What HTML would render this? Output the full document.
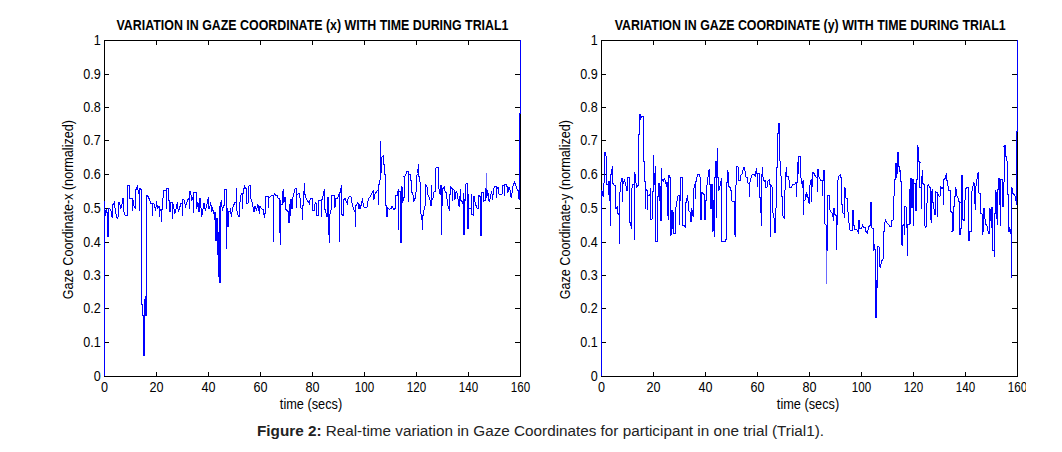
<!DOCTYPE html>
<html><head><meta charset="utf-8"><title>Figure 2</title>
<style>
html,body{margin:0;padding:0;background:#fff;}
body{width:1062px;height:452px;overflow:hidden;font-family:'Liberation Sans', Arial, Helvetica, sans-serif;}
svg{display:block;position:absolute;left:0;top:0;}
svg text{font-family:'Liberation Sans', Arial, Helvetica, sans-serif;}
.cap{position:absolute;left:257px;top:421px;width:600px;font-size:15.28px;line-height:20px;color:#222;white-space:nowrap;}
</style></head><body>
<svg width="1062" height="452" viewBox="0 0 1062 452">
<rect width="1062" height="452" fill="#fff"/>
<g shape-rendering="crispEdges" stroke="#000" stroke-width="1" fill="none">
<rect x="104.5" y="40.5" width="416" height="336"/>
<line x1="156.5" y1="376" x2="156.5" y2="372"/><line x1="156.5" y1="41" x2="156.5" y2="45"/>
<line x1="208.5" y1="376" x2="208.5" y2="372"/><line x1="208.5" y1="41" x2="208.5" y2="45"/>
<line x1="260.5" y1="376" x2="260.5" y2="372"/><line x1="260.5" y1="41" x2="260.5" y2="45"/>
<line x1="312.5" y1="376" x2="312.5" y2="372"/><line x1="312.5" y1="41" x2="312.5" y2="45"/>
<line x1="364.5" y1="376" x2="364.5" y2="372"/><line x1="364.5" y1="41" x2="364.5" y2="45"/>
<line x1="416.5" y1="376" x2="416.5" y2="372"/><line x1="416.5" y1="41" x2="416.5" y2="45"/>
<line x1="468.5" y1="376" x2="468.5" y2="372"/><line x1="468.5" y1="41" x2="468.5" y2="45"/>
<line x1="105" y1="342.5" x2="109" y2="342.5"/><line x1="520" y1="342.5" x2="515" y2="342.5"/>
<line x1="105" y1="308.5" x2="109" y2="308.5"/><line x1="520" y1="308.5" x2="515" y2="308.5"/>
<line x1="105" y1="275.5" x2="109" y2="275.5"/><line x1="520" y1="275.5" x2="515" y2="275.5"/>
<line x1="105" y1="242.5" x2="109" y2="242.5"/><line x1="520" y1="242.5" x2="515" y2="242.5"/>
<line x1="105" y1="208.5" x2="109" y2="208.5"/><line x1="520" y1="208.5" x2="515" y2="208.5"/>
<line x1="105" y1="174.5" x2="109" y2="174.5"/><line x1="520" y1="174.5" x2="515" y2="174.5"/>
<line x1="105" y1="140.5" x2="109" y2="140.5"/><line x1="520" y1="140.5" x2="515" y2="140.5"/>
<line x1="105" y1="107.5" x2="109" y2="107.5"/><line x1="520" y1="107.5" x2="515" y2="107.5"/>
<line x1="105" y1="74.5" x2="109" y2="74.5"/><line x1="520" y1="74.5" x2="515" y2="74.5"/>
</g>
<polyline points="104.5,376.0 104.5,201.4 104.5,215.5 105.5,215.5 106.1,209.4 107.1,213.0 107.5,212.0 107.5,236.0 108.5,236.0 108.5,209.0 109.5,208.2 111.0,210.6 112.2,217.9 112.5,217.9 112.5,204.5 113.2,204.5 114.4,202.6 115.3,210.6 117.1,218.6 118.4,216.7 118.5,216.7 118.5,202.6 119.6,202.6 120.6,208.2 121.8,206.3 122.6,198.4 123.5,198.4 123.5,211.8 123.9,211.8 125.1,215.5 126.7,215.5 127.5,215.5 127.5,204.5 127.5,204.5 127.5,204.5 127.5,185.5 128.4,185.5 129.4,185.5 129.5,185.5 129.5,198.4 130.6,198.4 132.5,198.4 132.5,210.6 132.5,198.4 132.8,198.4 133.7,205.7 135.5,208.2 135.5,208.2 135.5,189.2 136.5,189.2 137.3,185.5 138.6,193.5 139.5,193.5 139.5,210.6 139.5,188.6 139.8,188.6 141.0,189.2 141.5,189.2 141.5,304.0 142.5,304.0 142.5,315.0 143.5,315.0 143.5,355.5 144.5,355.5 144.5,302.0 145.5,296.0 145.5,315.0 146.0,315.0 146.5,315.0 146.5,195.9 146.3,195.9 147.7,195.9 149.0,198.4 150.8,203.3 152.5,203.3 152.5,216.1 152.5,203.3 153.9,203.3 155.7,210.6 156.5,200.8 157.5,208.2 158.8,206.3 159.5,206.3 159.5,216.7 159.4,216.7 160.2,209.4 161.5,209.4 161.5,222.2 161.5,209.4 161.8,209.4 162.5,209.4 162.5,198.4 163.0,198.4 163.6,190.4 166.1,190.4 166.5,190.4 166.5,209.4 166.5,188.0 167.9,188.0 168.5,188.0 168.5,188.0 168.5,200.8 169.2,200.8 169.5,200.8 169.5,211.8 170.4,211.8 171.0,202.0 172.5,202.0 172.5,219.2 172.5,204.5 173.4,204.5 174.7,213.7 175.9,209.4 177.4,202.0 178.3,211.8 179.6,208.2 180.8,203.3 182.5,203.3 182.5,215.5 182.5,199.0 183.8,199.0 185.7,206.3 187.5,200.8 188.4,198.4 189.5,198.4 189.5,208.8 189.5,191.6 190.6,191.6 191.8,200.8 192.8,197.1 193.5,197.1 193.5,213.0 193.5,192.2 194.9,192.2 196.1,192.2 196.5,192.2 196.5,208.2 196.9,208.2 197.9,202.0 198.9,211.2 199.5,211.2 199.5,198.4 200.1,198.4 201.0,208.2 201.6,216.7 202.8,210.6 204.0,202.6 205.3,210.6 206.5,206.9 208.3,197.7 208.5,197.7 208.5,208.2 209.5,208.2 210.8,202.0 211.6,211.8 212.6,208.8 213.8,211.8 214.8,220.4 215.0,212.0 215.5,212.0 215.5,240.0 216.5,240.0 216.5,218.0 217.5,218.0 217.5,255.0 217.5,232.0 218.5,232.0 218.5,270.0 218.5,240.0 218.5,276.0 219.5,276.0 219.5,205.7 219.5,282.5 220.0,282.5 220.6,282.5 220.5,282.5 220.5,202.0 221.2,202.0 221.5,201.4 222.4,210.6 223.6,205.7 224.5,205.7 224.5,189.2 226.5,189.2 226.5,248.7 226.5,208.2 227.5,208.2 227.5,226.5 228.5,226.5 228.5,211.8 230.0,211.8 230.0,208.2 231.5,216.7 232.4,208.2 234.9,202.6 236.5,202.6 236.5,188.0 236.5,209.4 236.7,209.4 238.3,216.7 239.5,216.7 239.5,203.3 239.8,203.3 241.3,193.5 242.5,193.5 242.5,209.4 242.5,193.5 243.2,193.5 244.4,186.1 245.9,188.6 246.5,188.6 246.5,203.9 246.5,203.9 248.4,202.6 248.5,202.6 248.5,186.1 248.6,186.1 250.2,185.1 250.5,185.1 250.5,198.4 250.8,198.4 252.6,203.9 253.9,212.4 255.1,205.7 256.3,210.6 257.9,203.9 259.4,213.7 260.0,205.7 261.6,208.8 263.0,209.4 264.5,217.9 265.5,209.4 265.5,209.4 265.5,196.5 266.1,196.5 268.2,196.5 268.5,196.5 268.5,208.2 268.5,197.1 269.8,197.1 272.2,195.3 273.5,195.3 273.5,241.6 273.5,195.9 273.8,195.9 274.7,193.5 275.9,195.9 277.1,195.3 278.3,198.4 279.5,198.4 279.5,232.0 280.5,232.0 280.5,200.0 280.5,245.3 280.5,204.5 281.4,204.5 282.5,204.5 282.5,193.5 282.6,193.5 283.4,189.2 283.5,189.2 283.5,202.6 283.9,202.6 285.1,197.1 285.5,197.1 285.5,209.4 286.3,209.4 287.5,211.2 288.5,211.2 288.5,222.2 289.5,222.2 289.5,204.5 290.5,204.5 290.5,216.1 290.5,199.6 291.2,199.6 291.8,208.2 292.5,208.2 292.5,197.1 293.0,197.1 293.9,193.5 295.2,188.6 296.5,188.6 296.5,208.2 296.5,194.7 297.1,194.7 299.2,193.5 300.4,200.8 301.0,208.2 302.5,208.2 302.5,220.4 302.5,205.7 303.2,205.7 303.5,205.7 303.5,191.0 304.1,191.0 304.7,183.7 304.5,183.7 304.5,194.7 305.3,194.7 306.5,199.6 308.3,202.0 309.6,204.5 310.2,198.4 312.0,198.4 312.5,198.4 312.5,210.6 313.2,210.6 314.5,210.6 315.1,202.6 316.3,203.3 316.5,203.3 316.5,215.5 316.9,215.5 318.4,215.5 318.5,215.5 318.5,200.8 319.1,200.8 320.6,200.8 321.5,200.8 321.5,217.3 321.5,199.6 322.4,199.6 323.6,192.2 324.5,189.2 324.5,189.2 324.5,209.4 325.2,209.4 326.7,216.1 327.5,216.1 327.5,197.7 328.5,197.7 328.5,235.0 328.5,215.0 329.5,215.0 329.5,243.4 329.5,214.3 329.8,214.3 331.3,209.4 331.5,209.4 331.5,195.9 332.2,195.9 334.0,195.9 334.5,195.9 334.5,207.5 335.0,207.5 335.5,198.4 337.7,198.4 338.7,194.7 339.5,194.7 339.5,241.6 339.5,192.2 340.2,192.2 341.4,185.5 341.5,185.5 341.5,214.3 342.0,214.3 343.2,215.5 343.5,215.5 343.5,199.6 343.8,199.6 345.1,198.4 346.3,202.0 347.5,203.9 348.1,198.4 350.0,195.9 351.2,197.1 351.8,202.6 353.6,209.4 354.8,211.8 355.5,211.8 355.5,226.5 355.5,205.7 356.1,205.7 357.9,202.6 359.1,209.4 360.0,204.5 360.0,208.8 361.2,205.7 362.4,198.4 363.4,206.3 364.9,207.5 366.1,208.2 367.3,206.9 368.3,198.4 369.8,197.1 371.6,194.1 373.2,190.4 373.7,200.2 374.7,194.7 376.5,191.6 378.1,189.8 378.5,189.8 378.5,205.1 378.5,184.9 379.6,184.9 380.2,178.0 380.5,178.0 380.5,141.0 380.5,172.0 381.5,172.0 381.5,157.0 382.3,157.0 383.5,156.0 383.9,164.0 384.7,164.0 384.5,164.0 384.5,174.0 385.1,174.0 385.7,174.0 385.5,174.0 385.5,189.8 385.5,189.8 385.5,189.8 385.5,205.7 386.3,205.7 386.5,205.7 386.5,216.7 387.2,216.7 387.9,208.2 389.4,209.4 391.2,208.2 392.1,206.3 393.7,209.4 394.9,208.8 395.5,208.8 395.5,195.9 395.7,195.9 397.3,195.3 398.2,189.8 398.5,189.8 398.5,229.6 398.5,191.0 399.4,191.0 400.5,191.0 400.5,242.6 401.5,242.6 401.5,187.0 401.9,187.3 402.5,187.3 402.5,202.0 402.8,202.0 404.1,197.1 404.5,197.1 404.5,176.5 404.3,176.5 405.9,175.3 406.3,171.0 407.7,171.0 408.5,171.0 408.5,202.0 408.5,176.5 408.7,176.5 409.2,174.0 410.4,174.0 410.8,180.0 411.6,180.0 411.5,180.0 411.5,192.2 412.0,192.2 413.2,195.9 413.9,200.8 415.1,198.4 416.1,191.6 416.5,191.6 416.5,176.3 417.5,173.5 418.5,164.0 418.5,176.5 418.6,176.5 419.4,177.0 420.0,182.0 420.6,182.6 420.6,211.2 421.8,219.2 422.5,219.2 422.5,230.3 422.5,215.5 423.6,215.5 424.3,206.3 425.5,205.7 425.5,205.7 425.5,184.9 426.1,184.9 427.3,187.3 427.9,194.7 429.8,198.4 430.7,205.1 431.5,205.1 431.5,184.9 431.5,199.6 432.8,199.6 434.1,191.6 435.3,191.6 435.3,169.2 436.5,167.1 438.6,167.1 438.5,167.1 438.5,188.6 438.9,188.6 440.2,194.7 440.8,185.5 441.5,185.5 441.5,234.6 441.5,205.7 442.3,205.7 442.5,205.7 442.5,188.6 443.2,188.6 444.5,186.7 445.1,192.2 446.3,192.2 447.1,200.2 448.4,208.2 449.4,210.0 449.5,210.0 449.5,194.7 450.0,194.7 450.8,186.1 451.8,188.6 452.5,188.6 452.5,201.4 452.5,189.8 454.0,189.8 454.9,199.6 456.1,191.0 457.3,193.5 457.9,198.4 459.1,206.9 459.8,198.4 460.6,189.2 460.5,189.2 460.5,200.8 461.3,200.8 462.8,203.3 463.8,194.1 463.5,194.0 463.5,234.6 464.5,234.6 464.5,200.0 465.0,200.8 465.5,200.8 465.5,184.3 465.5,184.3 466.7,183.7 467.5,183.7 467.5,228.3 467.6,228.3 468.3,228.3 468.5,228.3 468.5,194.1 468.5,208.2 470.2,208.2 471.3,209.0 471.5,209.0 471.5,193.5 471.5,214.5 472.4,214.5 473.5,215.6 473.5,215.6 473.5,196.8 474.2,196.8 475.0,202.3 476.1,205.7 477.2,208.4 478.3,208.4 478.5,208.4 478.5,195.7 478.6,195.7 479.7,195.7 480.5,198.0 480.5,235.7 481.5,235.7 481.5,193.0 481.6,192.4 483.3,192.4 483.8,201.2 485.0,200.1 485.5,200.1 485.5,188.5 485.5,188.5 486.4,188.5 486.8,197.9 487.7,190.1 488.8,200.1 489.7,201.2 490.5,196.8 491.6,190.7 492.7,200.1 493.3,190.1 494.6,186.3 495.7,186.3 496.5,186.3 496.5,197.3 496.4,197.3 497.1,187.9 498.6,187.9 499.0,194.0 501.0,194.6 502.1,194.0 502.7,185.7 503.8,185.7 504.5,185.7 504.5,196.2 504.5,184.6 506.0,184.6 507.1,186.8 507.7,192.9 508.8,187.9 509.9,187.9 510.4,195.1 511.5,197.9 512.6,188.5 513.4,184.6 514.5,182.4 515.6,184.6 516.5,188.5 518.2,190.7 518.7,197.9 519.5,200.0 519.5,113.0 520.5,113.0 520.5,40.0" fill="none" stroke="#0000ff" stroke-width="1" stroke-linejoin="miter" shape-rendering="crispEdges"/>
<line x1="486.5" y1="173" x2="486.5" y2="188.5" stroke="#6a6aff" stroke-width="1" shape-rendering="crispEdges"/>
<g font-size="14" fill="#000">
<text transform="translate(104.5,391.8) scale(0.9,1)" text-anchor="middle">0</text>
<text transform="translate(156.5,391.8) scale(0.9,1)" text-anchor="middle">20</text>
<text transform="translate(208.5,391.8) scale(0.9,1)" text-anchor="middle">40</text>
<text transform="translate(260.5,391.8) scale(0.9,1)" text-anchor="middle">60</text>
<text transform="translate(312.5,391.8) scale(0.9,1)" text-anchor="middle">80</text>
<text transform="translate(364.5,391.8) scale(0.83,1)" text-anchor="middle">100</text>
<text transform="translate(416.5,391.8) scale(0.83,1)" text-anchor="middle">120</text>
<text transform="translate(468.5,391.8) scale(0.83,1)" text-anchor="middle">140</text>
<text transform="translate(520.5,391.8) scale(0.83,1)" text-anchor="middle">160</text>
<text transform="translate(100.8,381) scale(0.9,1)" text-anchor="end">0</text>
<text transform="translate(100.8,347) scale(0.9,1)" text-anchor="end">0.1</text>
<text transform="translate(100.8,313) scale(0.9,1)" text-anchor="end">0.2</text>
<text transform="translate(100.8,280) scale(0.9,1)" text-anchor="end">0.3</text>
<text transform="translate(100.8,247) scale(0.9,1)" text-anchor="end">0.4</text>
<text transform="translate(100.8,213) scale(0.9,1)" text-anchor="end">0.5</text>
<text transform="translate(100.8,179) scale(0.9,1)" text-anchor="end">0.6</text>
<text transform="translate(100.8,145) scale(0.9,1)" text-anchor="end">0.7</text>
<text transform="translate(100.8,112) scale(0.9,1)" text-anchor="end">0.8</text>
<text transform="translate(100.8,79) scale(0.9,1)" text-anchor="end">0.9</text>
<text transform="translate(100.8,45) scale(0.9,1)" text-anchor="end">1</text>
</g>
<text x="311" y="408.7" font-size="13.8" text-anchor="middle" textLength="62.3" lengthAdjust="spacingAndGlyphs">time (secs)</text>
<text transform="translate(73,209.7) rotate(-90)" font-size="14" text-anchor="middle" textLength="179.3" lengthAdjust="spacingAndGlyphs">Gaze Coordinate-x (normalized)</text>
<text x="312.5" y="30.1" font-size="14" font-weight="bold" text-anchor="middle" textLength="392" lengthAdjust="spacingAndGlyphs">VARIATION IN GAZE COORDINATE (x) WITH TIME DURING TRIAL1</text>
<g shape-rendering="crispEdges" stroke="#000" stroke-width="1" fill="none">
<rect x="601.5" y="40.5" width="416" height="336"/>
<line x1="653.5" y1="376" x2="653.5" y2="372"/><line x1="653.5" y1="41" x2="653.5" y2="45"/>
<line x1="705.5" y1="376" x2="705.5" y2="372"/><line x1="705.5" y1="41" x2="705.5" y2="45"/>
<line x1="757.5" y1="376" x2="757.5" y2="372"/><line x1="757.5" y1="41" x2="757.5" y2="45"/>
<line x1="809.5" y1="376" x2="809.5" y2="372"/><line x1="809.5" y1="41" x2="809.5" y2="45"/>
<line x1="861.5" y1="376" x2="861.5" y2="372"/><line x1="861.5" y1="41" x2="861.5" y2="45"/>
<line x1="913.5" y1="376" x2="913.5" y2="372"/><line x1="913.5" y1="41" x2="913.5" y2="45"/>
<line x1="965.5" y1="376" x2="965.5" y2="372"/><line x1="965.5" y1="41" x2="965.5" y2="45"/>
<line x1="602" y1="342.5" x2="606" y2="342.5"/><line x1="1017" y1="342.5" x2="1012" y2="342.5"/>
<line x1="602" y1="308.5" x2="606" y2="308.5"/><line x1="1017" y1="308.5" x2="1012" y2="308.5"/>
<line x1="602" y1="275.5" x2="606" y2="275.5"/><line x1="1017" y1="275.5" x2="1012" y2="275.5"/>
<line x1="602" y1="242.5" x2="606" y2="242.5"/><line x1="1017" y1="242.5" x2="1012" y2="242.5"/>
<line x1="602" y1="208.5" x2="606" y2="208.5"/><line x1="1017" y1="208.5" x2="1012" y2="208.5"/>
<line x1="602" y1="174.5" x2="606" y2="174.5"/><line x1="1017" y1="174.5" x2="1012" y2="174.5"/>
<line x1="602" y1="140.5" x2="606" y2="140.5"/><line x1="1017" y1="140.5" x2="1012" y2="140.5"/>
<line x1="602" y1="107.5" x2="606" y2="107.5"/><line x1="1017" y1="107.5" x2="1012" y2="107.5"/>
<line x1="602" y1="74.5" x2="606" y2="74.5"/><line x1="1017" y1="74.5" x2="1012" y2="74.5"/>
</g>
<polyline points="601.5,376.0 601.5,190.0 601.7,190.0 603.1,196.6 603.7,186.8 604.6,177.0 604.5,177.0 604.5,152.0 605.3,152.0 606.5,158.7 606.5,158.7 606.5,184.4 607.0,184.4 608.5,184.4 608.5,195.4 608.5,181.3 608.6,181.3 609.5,181.3 609.5,181.3 609.5,200.3 609.9,200.3 610.5,200.3 610.5,225.7 610.5,174.6 611.4,174.6 612.3,166.0 612.5,166.0 612.5,183.2 612.9,183.2 614.1,185.0 615.4,185.0 615.5,185.0 615.5,197.8 615.6,197.8 615.5,197.8 615.5,208.5 616.3,208.5 617.2,206.1 617.8,213.5 619.0,214.7 619.5,214.7 619.5,243.5 619.5,195.0 619.8,195.0 620.3,186.8 621.5,178.9 622.5,178.9 622.5,202.4 622.5,183.8 622.9,183.8 624.5,180.1 625.8,185.6 627.0,190.5 627.5,190.5 627.5,177.6 627.6,177.6 628.6,177.6 629.5,177.6 629.5,191.7 629.4,191.7 629.5,191.7 629.5,222.6 630.3,222.6 631.5,228.8 631.5,228.8 631.5,189.3 631.9,189.3 632.5,184.4 633.7,184.4 634.5,184.4 634.5,239.8 634.5,172.1 634.7,172.1 635.6,177.6 636.4,187.4 638.0,185.6 638.5,185.6 638.5,134.0 638.4,134.0 639.2,134.0 639.5,134.0 639.5,114.1 639.5,114.1 640.1,120.2 640.8,115.3 641.7,117.2 642.3,116.3 643.5,116.3 643.5,116.3 643.5,161.9 643.8,161.9 644.1,161.1 644.5,161.1 644.5,181.3 645.0,181.3 645.5,181.3 645.5,208.6 645.5,189.3 646.2,189.3 647.4,191.1 647.5,191.1 647.5,209.8 647.5,195.4 649.0,195.4 649.9,194.2 650.5,194.2 650.5,212.2 650.5,188.0 650.5,219.6 651.5,219.6 652.7,218.4 652.7,191.7 653.5,191.7 653.5,155.1 653.5,173.4 653.9,173.4 654.5,173.4 654.5,184.4 655.5,184.4 655.5,166.0 655.5,241.6 656.7,241.6 657.2,241.6 657.5,241.6 657.5,196.6 657.6,196.6 658.5,196.6 658.5,183.2 659.5,183.2 659.5,200.9 660.5,200.9 660.5,185.6 660.5,220.2 660.6,220.2 661.4,220.2 661.5,220.2 661.5,167.9 661.5,178.9 662.1,178.9 663.1,181.3 664.3,178.9 665.5,181.3 666.5,187.4 667.0,182.5 667.5,182.5 667.5,215.9 668.5,215.9 668.5,195.0 668.5,219.6 668.5,175.2 669.5,175.2 670.2,178.3 670.5,178.3 670.5,235.5 670.5,212.0 671.5,212.0 671.5,235.0 671.5,210.0 672.5,210.0 672.5,228.0 673.5,228.0 673.5,212.0 673.5,233.7 673.5,233.7 675.6,233.7 675.6,208.6 676.6,204.0 677.8,196.0 678.8,195.4 679.5,195.4 679.5,224.5 679.5,200.0 679.7,200.0 680.5,200.0 680.5,177.3 680.5,177.3 682.7,177.3 682.7,225.1 684.5,225.7 685.4,227.5 685.5,227.5 685.5,205.0 685.6,205.0 686.4,200.3 687.6,195.4 688.2,203.7 688.8,211.0 690.6,212.9 690.8,221.4 691.5,221.4 691.5,208.2 691.2,208.2 691.9,208.6 692.5,214.7 693.7,216.5 693.5,216.5 693.5,189.3 693.9,189.3 694.3,184.4 695.5,184.4 695.5,198.5 695.5,181.3 696.1,181.3 697.6,174.6 699.2,174.3 700.2,177.6 700.5,177.6 700.5,212.2 700.4,212.2 701.0,219.6 701.5,219.6 701.5,204.0 701.7,204.0 701.5,204.0 701.5,192.9 702.3,192.9 703.5,194.2 704.5,194.2 704.5,219.6 704.7,219.6 705.7,219.6 705.5,219.6 705.5,200.0 706.2,200.0 706.5,200.0 706.5,188.0 706.5,188.0 707.8,179.5 708.6,170.9 709.6,169.1 709.5,169.1 709.5,184.4 710.2,184.4 710.5,184.4 710.5,208.6 711.5,208.6 711.5,184.4 712.5,184.4 712.5,232.4 712.5,200.0 713.5,200.0 713.5,230.0 713.9,230.0 714.5,236.7 714.5,236.7 714.5,190.0 714.7,190.0 714.5,190.0 714.5,177.0 715.0,177.0 715.5,177.0 715.5,161.1 716.5,161.1 716.5,217.7 716.5,177.0 716.7,177.0 717.5,177.0 717.5,148.1 717.5,177.6 718.2,177.6 718.5,177.6 718.5,190.5 718.8,190.5 720.0,186.2 720.9,181.3 721.8,178.3 721.5,178.3 721.5,241.6 722.1,241.6 724.9,241.6 725.9,239.8 726.5,239.8 726.5,182.0 726.1,182.0 727.0,182.5 727.5,182.5 727.5,170.3 727.6,170.3 728.5,173.4 728.5,173.4 728.5,186.2 729.2,186.2 730.4,188.0 731.3,191.7 731.9,200.9 733.7,201.5 734.6,201.5 734.6,232.4 735.3,236.7 735.5,236.7 735.5,188.7 735.6,188.7 736.5,181.3 736.5,181.3 736.5,166.6 737.4,166.6 738.6,167.2 738.5,167.2 738.5,180.1 739.0,180.1 740.2,180.1 740.7,175.2 742.3,173.4 743.5,167.9 744.7,167.2 745.6,177.0 747.2,177.6 748.1,183.2 749.5,183.2 749.5,196.6 749.5,183.8 749.6,183.8 750.9,178.3 752.1,174.6 753.9,174.3 755.4,175.8 756.4,167.9 757.0,174.0 757.5,174.0 757.5,187.4 757.5,173.4 758.6,173.4 759.4,173.4 759.5,173.4 759.5,197.8 760.0,197.8 760.5,197.8 760.5,212.2 760.3,212.2 761.5,212.2 761.5,226.3 761.5,175.8 761.9,175.8 762.5,166.6 762.7,176.4 764.3,181.3 765.2,180.7 765.9,187.4 767.4,186.8 768.0,181.3 769.6,179.5 769.8,184.4 770.5,184.4 770.5,236.5 770.5,185.0 770.8,185.0 771.7,185.6 772.3,188.0 772.5,188.0 772.5,212.2 772.9,212.2 774.1,218.4 774.5,218.4 774.5,232.4 774.5,232.4 775.3,232.4 775.5,232.4 775.5,208.6 775.7,208.6 776.6,207.3 776.6,167.2 777.2,167.2 777.2,133.9 778.4,133.9 778.4,123.1 779.6,123.1 779.5,123.1 779.5,157.4 779.9,157.4 780.2,166.6 780.6,173.4 781.5,178.3 781.5,178.3 781.5,196.0 781.8,196.0 782.7,196.0 782.7,215.3 784.3,218.4 784.5,218.4 784.5,190.5 784.5,190.5 785.5,189.3 785.5,189.3 785.5,173.4 785.8,173.4 786.6,167.2 787.0,176.4 788.2,176.4 789.2,181.3 790.0,187.4 791.3,187.4 793.1,184.4 794.9,184.4 795.5,182.5 796.5,182.5 796.5,197.2 796.5,182.5 797.0,182.5 797.5,182.5 797.5,162.3 797.4,162.3 798.0,166.6 798.6,173.4 798.5,173.4 798.5,156.5 799.2,156.5 799.5,156.1 800.7,156.1 800.7,177.0 801.7,179.5 802.3,188.0 803.1,180.1 803.5,180.1 803.5,214.7 803.5,200.9 803.9,200.9 805.3,199.7 806.3,192.3 807.2,197.8 807.8,194.2 808.4,202.7 809.6,203.3 809.5,203.3 809.5,185.6 810.0,185.6 810.5,180.1 811.5,179.5 811.5,179.5 811.5,202.1 811.5,186.8 812.4,186.8 812.5,186.8 812.5,172.1 813.3,172.1 814.5,174.6 815.7,177.0 817.0,177.6 817.5,177.6 817.5,191.7 817.5,169.1 818.6,169.1 819.0,177.0 820.6,180.1 821.2,180.7 822.5,180.7 822.5,196.0 822.5,180.1 823.1,180.1 823.5,170.3 824.3,170.9 824.5,170.9 824.5,223.3 824.7,223.3 825.5,224.5 826.5,226.0 826.5,250.0 827.5,250.0 827.5,212.9 827.6,212.9 827.5,212.9 827.5,195.4 828.3,195.4 829.6,196.0 829.5,196.0 829.5,209.2 829.8,209.2 831.0,212.2 832.3,213.5 832.9,215.3 833.5,221.4 833.5,221.4 833.5,208.6 834.1,208.6 834.7,209.2 835.0,214.7 835.9,215.3 836.5,215.3 836.5,250.4 836.5,224.5 836.7,224.5 837.5,224.5 837.5,224.5 837.5,184.4 837.6,184.4 838.4,176.4 840.2,174.6 840.8,177.6 841.4,177.6 841.5,177.6 841.5,204.0 841.8,204.0 842.7,204.6 843.0,212.9 844.3,214.7 844.5,217.7 844.5,187.4 845.5,189.3 846.0,197.8 847.6,199.1 847.6,211.6 848.4,212.2 848.5,212.2 848.5,222.6 848.8,222.6 849.6,223.3 850.0,230.0 852.5,230.0 852.5,210.4 853.1,210.4 853.5,210.4 853.5,225.7 854.3,225.7 854.9,229.4 857.0,230.0 858.4,233.2 858.5,233.2 858.5,220.3 859.3,220.3 859.8,228.3 861.4,228.9 862.6,225.2 863.9,227.6 865.1,227.6 865.9,231.3 867.5,233.2 868.8,226.4 870.0,225.8 870.0,201.9 871.2,202.6 871.5,202.6 871.5,227.6 871.6,227.6 872.8,228.3 873.5,228.3 873.5,250.3 873.3,250.3 874.3,244.2 874.9,249.1 875.7,249.1 875.7,317.0 876.3,317.0 876.5,317.0 876.5,280.0 876.4,280.0 877.0,287.4 877.5,287.4 877.5,262.0 877.4,262.0 877.5,262.0 877.5,246.0 878.2,246.0 879.4,247.8 879.4,265.0 880.7,268.3 881.2,261.6 882.3,260.0 883.3,258.3 883.5,258.3 883.5,231.9 883.5,231.9 884.7,231.3 884.7,223.4 885.5,220.3 887.1,223.4 888.3,224.0 889.6,226.4 891.4,226.4 892.0,220.3 893.6,219.7 893.5,219.7 893.5,199.1 893.5,199.1 894.3,194.2 894.3,180.1 895.6,179.5 895.6,163.6 896.2,163.6 896.5,163.6 896.5,177.6 896.4,177.6 897.1,173.4 897.5,173.4 897.5,152.7 897.4,152.7 898.6,152.7 898.5,152.7 898.5,166.6 899.2,166.6 899.8,170.9 900.5,170.3 900.5,170.3 900.5,181.3 900.8,181.3 901.7,182.5 901.5,182.5 901.5,242.9 901.4,242.9 902.4,245.4 902.5,245.4 902.5,225.8 902.7,225.8 904.3,224.0 904.5,224.0 904.5,234.4 904.9,234.4 904.9,206.2 905.7,206.4 906.6,208.2 906.5,208.2 906.5,227.6 906.3,227.6 907.1,227.0 907.5,227.0 907.5,256.4 907.5,224.0 907.6,224.0 909.2,224.0 909.1,199.7 909.5,199.7 909.5,189.3 910.5,189.3 910.5,224.0 910.5,178.0 911.5,178.0 911.5,207.0 912.5,207.0 912.5,179.0 913.5,179.0 913.5,226.0 913.5,183.0 915.5,183.0 915.5,210.0 916.5,210.0 916.5,180.0 917.3,179.5 917.5,179.5 917.5,145.2 917.3,145.2 918.4,147.5 918.5,147.5 918.5,161.5 918.8,161.5 919.6,162.3 919.5,162.3 919.5,187.4 920.0,187.4 920.9,188.0 921.5,188.0 921.5,208.9 921.5,177.6 921.9,177.6 922.5,170.3 922.5,170.3 922.5,183.8 923.1,183.8 924.1,184.4 924.3,187.4 924.9,187.4 924.5,187.4 924.5,225.8 924.7,225.8 925.7,227.0 926.3,226.4 926.5,226.4 926.5,203.3 926.5,203.3 927.4,202.7 927.4,185.6 928.6,184.4 929.2,187.4 930.4,188.0 930.7,190.5 930.5,190.5 930.5,219.7 930.8,219.7 931.6,222.1 931.5,222.1 931.5,191.7 931.9,191.7 932.6,189.3 932.5,189.3 932.5,202.1 933.1,202.1 933.9,207.6 934.5,214.8 935.5,214.8 935.5,191.7 935.6,191.7 936.6,192.3 937.5,192.3 937.5,216.6 937.5,194.2 938.4,194.2 939.3,196.6 940.0,196.6 940.5,186.8 941.7,188.0 942.4,188.0 943.3,186.8 943.5,186.8 943.5,204.6 943.5,179.5 944.1,179.5 945.4,178.3 946.4,173.4 946.7,180.1 947.6,180.7 947.8,185.6 948.8,186.8 949.0,190.5 950.3,190.5 950.5,190.5 950.5,211.7 951.1,211.7 952.0,212.3 952.5,212.3 952.5,231.3 952.4,231.3 953.6,230.1 953.5,230.1 953.5,206.2 953.8,206.2 953.7,206.4 954.5,206.4 954.5,196.0 954.3,196.0 955.2,196.0 955.5,187.4 956.4,189.9 956.8,196.0 958.0,197.8 958.6,201.5 959.6,202.1 959.5,202.1 959.5,234.4 959.3,234.4 960.6,234.4 960.9,228.9 961.5,228.9 961.5,228.9 961.5,176.0 961.4,176.0 962.6,175.5 962.5,175.5 962.5,219.0 963.0,219.0 964.3,220.9 964.5,220.9 964.5,200.2 964.6,200.2 965.9,199.0 965.5,199.0 965.5,188.7 966.1,188.7 967.1,187.1 968.5,187.1 968.5,240.4 969.8,240.4 970.0,231.2 971.0,231.2 971.5,231.2 971.5,192.3 971.6,192.3 972.8,187.4 973.4,182.6 974.4,183.8 974.5,183.8 974.5,203.3 974.9,203.3 975.6,209.3 975.5,209.3 975.5,186.2 975.9,186.2 976.8,183.2 977.3,174.6 978.5,172.2 978.5,172.2 978.5,192.9 978.9,192.9 980.1,193.5 980.7,194.8 980.5,194.8 980.5,213.5 981.0,213.5 982.0,214.1 982.0,234.9 982.6,234.9 983.2,231.2 983.5,231.2 983.5,208.8 983.4,208.8 984.6,208.8 984.8,218.4 985.4,219.6 985.6,224.5 986.8,225.1 987.4,227.0 988.3,233.0 989.5,233.0 989.5,233.0 989.5,208.8 989.3,208.8 990.5,209.4 990.5,209.4 990.5,220.9 991.5,220.9 991.5,207.0 991.5,227.6 992.5,227.6 992.5,207.0 992.5,250.7 993.2,250.7 994.1,251.3 994.8,256.2 994.5,256.2 994.5,213.5 995.1,213.5 995.5,213.5 995.5,189.9 995.5,212.9 996.3,212.9 996.3,192.9 996.5,192.9 996.5,218.4 997.5,218.4 997.5,190.5 997.5,224.5 997.5,189.9 998.0,189.9 998.5,189.9 998.5,178.3 998.8,178.3 999.6,178.3 999.5,178.3 999.5,204.5 1000.0,204.5 1000.5,204.5 1000.5,226.3 1000.5,179.5 1001.2,179.5 1002.1,179.5 1002.5,179.5 1002.5,197.8 1002.4,197.8 1002.9,206.3 1003.5,206.3 1003.5,191.7 1003.7,191.7 1003.9,182.6 1004.5,178.3 1004.5,178.3 1004.5,146.0 1004.3,146.0 1005.5,145.2 1005.5,145.2 1005.5,156.9 1006.2,156.9 1006.9,157.6 1007.2,166.2 1007.5,166.2 1007.5,194.1 1007.8,194.1 1008.5,195.4 1008.5,223.3 1009.0,232.4 1009.8,227.0 1010.6,233.7 1011.2,234.3 1011.5,234.3 1011.5,277.6 1011.5,187.4 1011.5,187.4 1012.4,188.7 1013.0,193.5 1014.3,194.8 1014.9,196.0 1015.9,196.6 1016.1,203.9 1016.5,204.0 1016.5,131.0 1017.5,131.0 1017.5,40.0" fill="none" stroke="#0000ff" stroke-width="1" stroke-linejoin="miter" shape-rendering="crispEdges"/>
<line x1="826.5" y1="250" x2="826.5" y2="284" stroke="#6a6aff" stroke-width="1" shape-rendering="crispEdges"/>
<g font-size="14" fill="#000">
<text transform="translate(601.5,391.8) scale(0.9,1)" text-anchor="middle">0</text>
<text transform="translate(653.5,391.8) scale(0.9,1)" text-anchor="middle">20</text>
<text transform="translate(705.5,391.8) scale(0.9,1)" text-anchor="middle">40</text>
<text transform="translate(757.5,391.8) scale(0.9,1)" text-anchor="middle">60</text>
<text transform="translate(809.5,391.8) scale(0.9,1)" text-anchor="middle">80</text>
<text transform="translate(861.5,391.8) scale(0.83,1)" text-anchor="middle">100</text>
<text transform="translate(913.5,391.8) scale(0.83,1)" text-anchor="middle">120</text>
<text transform="translate(965.5,391.8) scale(0.83,1)" text-anchor="middle">140</text>
<text transform="translate(1017.5,391.8) scale(0.83,1)" text-anchor="middle">160</text>
<text transform="translate(597.8,381) scale(0.9,1)" text-anchor="end">0</text>
<text transform="translate(597.8,347) scale(0.9,1)" text-anchor="end">0.1</text>
<text transform="translate(597.8,313) scale(0.9,1)" text-anchor="end">0.2</text>
<text transform="translate(597.8,280) scale(0.9,1)" text-anchor="end">0.3</text>
<text transform="translate(597.8,247) scale(0.9,1)" text-anchor="end">0.4</text>
<text transform="translate(597.8,213) scale(0.9,1)" text-anchor="end">0.5</text>
<text transform="translate(597.8,179) scale(0.9,1)" text-anchor="end">0.6</text>
<text transform="translate(597.8,145) scale(0.9,1)" text-anchor="end">0.7</text>
<text transform="translate(597.8,112) scale(0.9,1)" text-anchor="end">0.8</text>
<text transform="translate(597.8,79) scale(0.9,1)" text-anchor="end">0.9</text>
<text transform="translate(597.8,45) scale(0.9,1)" text-anchor="end">1</text>
</g>
<text x="808" y="408.7" font-size="13.8" text-anchor="middle" textLength="62.3" lengthAdjust="spacingAndGlyphs">time (secs)</text>
<text transform="translate(570,209.7) rotate(-90)" font-size="14" text-anchor="middle" textLength="179.3" lengthAdjust="spacingAndGlyphs">Gaze Coordinate-y (normalized)</text>
<text x="810.2" y="30.1" font-size="14" font-weight="bold" text-anchor="middle" textLength="391" lengthAdjust="spacingAndGlyphs">VARIATION IN GAZE COORDINATE (y) WITH TIME DURING TRIAL1</text>
<rect x="1026" y="379" width="36" height="17" fill="#fff"/>
</svg>
<div class="cap"><b>Figure 2:</b> Real-time variation in Gaze Coordinates for participant in one trial (Trial1).</div>
</body></html>
